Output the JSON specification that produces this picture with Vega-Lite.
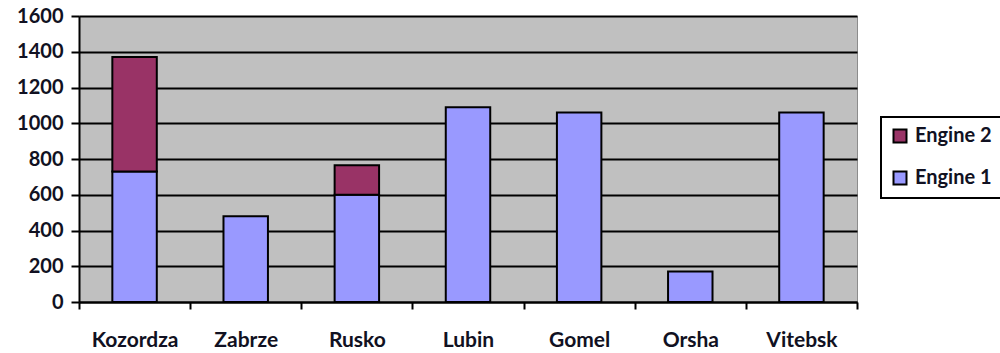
{
  "$schema": "https://vega.github.io/schema/vega-lite/v6.json",
  "autosize": "none",
  "width": 778,
  "height": 286,
  "padding": {"left": 79, "top": 16, "right": 143, "bottom": 51},
  "background": "white",
  "config": {
    "view": {"fill": "#c0c0c0", "stroke": "#8c8c8c", "strokeWidth": 1},
    "font": "Lato",
    "legend": {"strokeWidth": 2}
  },
  "data": {
    "values": [
      {"city": "Kozordza", "engine": "Engine 1", "value": 730},
      {"city": "Kozordza", "engine": "Engine 2", "value": 640},
      {"city": "Zabrze", "engine": "Engine 1", "value": 480},
      {"city": "Rusko", "engine": "Engine 1", "value": 600},
      {"city": "Rusko", "engine": "Engine 2", "value": 165},
      {"city": "Lubin", "engine": "Engine 1", "value": 1090},
      {"city": "Gomel", "engine": "Engine 1", "value": 1060},
      {"city": "Orsha", "engine": "Engine 1", "value": 170},
      {"city": "Vitebsk", "engine": "Engine 1", "value": 1060}
    ]
  },
  "mark": {"type": "bar", "width": {"band": 0.4}, "stroke": "black", "strokeWidth": 2},
  "encoding": {
    "x": {
      "field": "city",
      "type": "nominal",
      "sort": ["Kozordza", "Zabrze", "Rusko", "Lubin", "Gomel", "Orsha", "Vitebsk"],
      "scale": {"paddingInner": 0, "paddingOuter": 0},
      "axis": {
        "title": null,
        "labelAngle": 0,
        "tickBand": "extent",
        "domainColor": "black",
        "domainWidth": 2,
        "tickColor": "black",
        "tickWidth": 2,
        "tickSize": 7,
        "labelFont": "Lato",
        "labelFontSize": 21,
        "labelFontWeight": "bold",
        "labelColor": "#111122",
        "labelPadding": 20
      }
    },
    "y": {
      "field": "value",
      "type": "quantitative",
      "stack": "zero",
      "scale": {"domain": [0, 1600], "nice": false},
      "axis": {
        "title": null,
        "values": [0, 200, 400, 600, 800, 1000, 1200, 1400, 1600],
        "format": "d",
        "grid": true,
        "gridColor": "black",
        "gridWidth": 2,
        "gridOpacity": 1,
        "domainColor": "black",
        "domainWidth": 2,
        "tickColor": "black",
        "tickWidth": 2,
        "tickSize": 8,
        "labelFont": "Lato",
        "labelFontSize": 20,
        "labelFontWeight": "bold",
        "labelColor": "#111122",
        "labelPadding": 8
      }
    },
    "color": {
      "field": "engine",
      "type": "nominal",
      "scale": {"domain": ["Engine 2", "Engine 1"], "range": ["#993366", "#9999ff"]},
      "legend": {
        "title": null,
        "orient": "none",
        "legendX": 802,
        "legendY": 101,
        "strokeColor": "black",
        "fillColor": "white",
        "padding": 9,
        "rowPadding": 20,
        "symbolType": "square",
        "symbolSize": 169,
        "symbolStrokeColor": "black",
        "symbolStrokeWidth": 2,
        "symbolOpacity": 1,
        "labelFont": "Lato",
        "labelFontSize": 20,
        "labelFontWeight": "bold",
        "labelColor": "#111122",
        "labelOffset": 5
      }
    },
    "order": {"field": "engine", "type": "nominal", "sort": "ascending"}
  }
}
